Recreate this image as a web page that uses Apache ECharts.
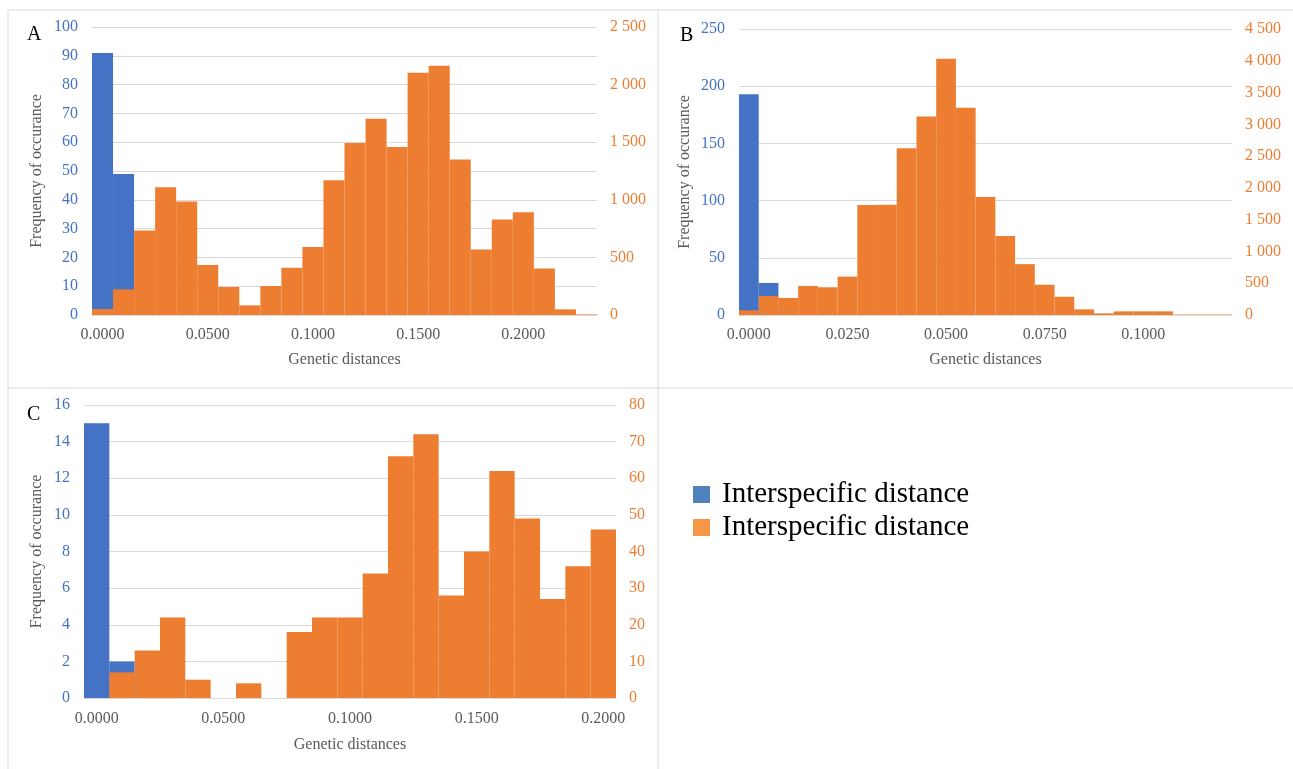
<!DOCTYPE html>
<html>
<head>
<meta charset="utf-8">
<script src="https://cdn.jsdelivr.net/npm/echarts@6/dist/echarts.min.js"></script>
<style>
html,body{margin:0;padding:0;background:#fff;}
#chart{width:1293px;height:769px;}
</style>
</head>
<body>
<div id="chart"></div>
<script>
// ---------- DATA ----------
const catsA = ['0.0000','0.0100','0.0200','0.0300','0.0400','0.0500','0.0600','0.0700','0.0800','0.0900','0.1000','0.1100','0.1200','0.1300','0.1400','0.1500','0.1600','0.1700','0.1800','0.1900','0.2000','0.2100','0.2200','0.2300'];
const intraA = [91, 49];
const interA = [52, 223, 733, 1109, 985, 435, 243, 84, 252, 411, 591, 1170, 1492, 1704, 1458, 2102, 2163, 1350, 569, 830, 891, 404, 49, 5];

const catsB = ['0.0000','0.0050','0.0100','0.0150','0.0200','0.0250','0.0300','0.0350','0.0400','0.0450','0.0500','0.0550','0.0600','0.0650','0.0700','0.0750','0.0800','0.0850','0.0900','0.0950','0.1000','0.1050','0.1100','0.1150','0.1200'];
const intraB = [193, 28];
const interB = [74, 299, 268, 457, 436, 604, 1730, 1735, 2625, 3124, 4033, 3261, 1855, 1244, 800, 476, 287, 89, 26, 57, 57, 57, 8, 8, 8];

const catsC = ['0.0000','0.0100','0.0200','0.0300','0.0400','0.0500','0.0600','0.0700','0.0800','0.0900','0.1000','0.1100','0.1200','0.1300','0.1400','0.1500','0.1600','0.1700','0.1800','0.1900','0.2000'];
const intraC = [15, 2];
const interC = [0, 7, 13, 22, 5, 0, 4, 0, 18, 22, 22, 34, 66, 72, 28, 40, 62, 49, 27, 36, 46];

const panelLetters = ['A', 'B', 'C'];
const legendLabel = 'Interspecific distance';
const xName = 'Genetic distances';
const yName = 'Frequency of occurance';

// ---------- STYLE ----------
const BLUE = '#4472C4', ORANGE = '#ED7D31';
const GRID = '#D9D9D9', TXT = '#595959';
const FONT = '"Liberation Serif", "Times New Roman", serif';
const S1 = 'Interspecific distance (primary)';
const S2 = 'Interspecific distance (secondary)';

function thousands(v){ return String(v).replace(/\B(?=(\d{3})+(?!\d))/g, ' '); }

const grids = [
  {left: 92, top: 27, width: 505, height: 288},
  {left: 739, top: 29, width: 493, height: 286},
  {left: 84, top: 405, width: 532, height: 293}
];
const cats = [catsA, catsB, catsC];
const intra = [intraA, intraB, intraC];
const inter = [interA, interB, interC];
const leftAx = [{max:100, interval:10},{max:250, interval:50},{max:16, interval:2}];
const rightAx = [{max:2500, interval:500},{max:4500, interval:500},{max:80, interval:10}];
const yNameGap = [47, 46, 39];
const xNameGap = [37, 37, 39];
const xMargin = [12, 12, 13];

const xAxis = [], yAxis = [], series = [];
for (let i = 0; i < 3; i++) {
  xAxis.push({
    type: 'category', gridIndex: i, data: cats[i],
    axisTick: {show: false},
    axisLine: {show: true, lineStyle: {color: GRID, width: 1}},
    axisLabel: {interval: 4, color: TXT, fontFamily: FONT, fontSize: 16, margin: xMargin[i]},
    name: xName, nameLocation: 'middle', nameGap: xNameGap[i],
    nameTextStyle: {color: TXT, fontFamily: FONT, fontSize: 16}
  });
  yAxis.push({
    type: 'value', gridIndex: i, min: 0, max: leftAx[i].max, interval: leftAx[i].interval,
    axisLine: {show: false}, axisTick: {show: false},
    splitLine: {show: true, lineStyle: {color: GRID, width: 1}},
    axisLabel: {color: BLUE, fontFamily: FONT, fontSize: 16, margin: 14},
    name: yName, nameLocation: 'middle', nameGap: yNameGap[i],
    nameTextStyle: {color: TXT, fontFamily: FONT, fontSize: 16}
  });
  yAxis.push({
    type: 'value', gridIndex: i, position: 'right', min: 0, max: rightAx[i].max, interval: rightAx[i].interval,
    axisLine: {show: false}, axisTick: {show: false}, splitLine: {show: false},
    axisLabel: {color: ORANGE, fontFamily: FONT, fontSize: 16, margin: 13, formatter: thousands}
  });
  series.push({
    type: 'bar', name: S1, xAxisIndex: i, yAxisIndex: 2*i, data: intra[i],
    barCategoryGap: '0%', barGap: '-100%', itemStyle: {color: BLUE}, z: 2
  });
  series.push({
    type: 'bar', name: S2, xAxisIndex: i, yAxisIndex: 2*i + 1, data: inter[i],
    barCategoryGap: '0%', barGap: '-100%', itemStyle: {color: ORANGE}, z: 3
  });
}

const frame = {stroke: GRID, lineWidth: 1};
const option = {
  backgroundColor: '#fff',
  animation: false,
  grid: grids,
  xAxis: xAxis,
  yAxis: yAxis,
  series: series,
  legend: {
    orient: 'vertical', left: 688, top: 475, itemWidth: 17, itemHeight: 17, itemGap: 4,
    icon: 'rect', selectedMode: false,
    data: [
      {name: S1, itemStyle: {color: '#4F81BD'}},
      {name: S2, itemStyle: {color: '#F79646'}}
    ],
    formatter: function(){ return legendLabel; },
    textStyle: {color: '#000', fontFamily: FONT, fontSize: 29, padding: [0,0,0,7]}
  },
  graphic: [
    {type: 'line', shape: {x1: 8, y1: 10, x2: 1293, y2: 10}, style: frame, silent: true},
    {type: 'line', shape: {x1: 8, y1: 10, x2: 8, y2: 769}, style: frame, silent: true},
    {type: 'line', shape: {x1: 658, y1: 10, x2: 658, y2: 769}, style: frame, silent: true},
    {type: 'line', shape: {x1: 8, y1: 388, x2: 1293, y2: 388}, style: frame, silent: true},
    {type: 'text', left: 27, top: 25, style: {text: panelLetters[0], fill: '#000', font: '20px ' + FONT}},
    {type: 'text', left: 680, top: 26, style: {text: panelLetters[1], fill: '#000', font: '20px ' + FONT}},
    {type: 'text', left: 27, top: 405, style: {text: panelLetters[2], fill: '#000', font: '20px ' + FONT}}
  ]
};

const chart = echarts.init(document.getElementById('chart'), null, {renderer: 'canvas'});
chart.setOption(option);
</script>
</body>
</html>
